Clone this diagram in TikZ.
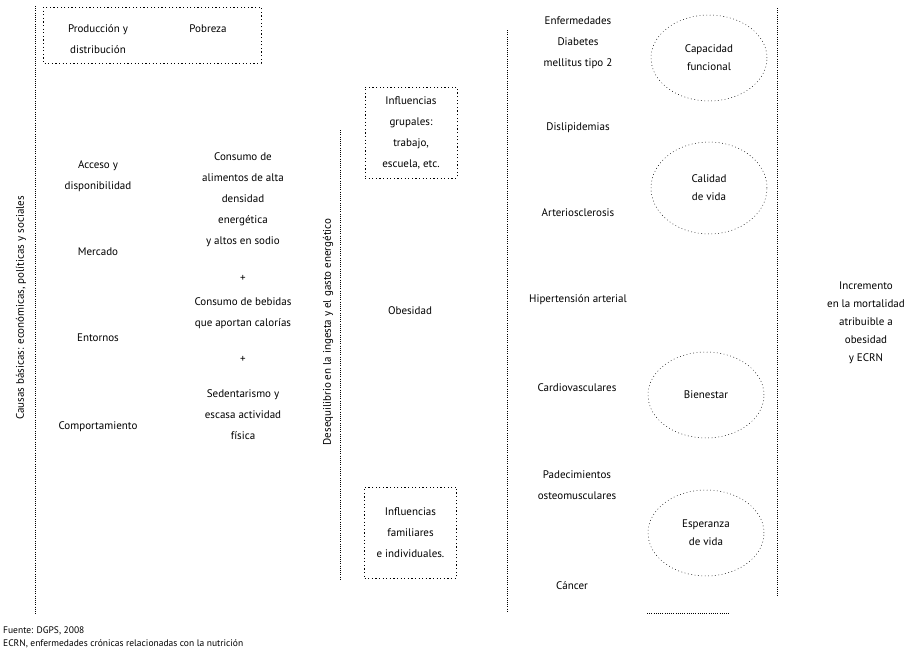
\documentclass[tikz,border=0pt]{standalone}
\usepackage{fontspec}
\setmainfont{PT Sans}
\usetikzlibrary{shapes,positioning}

\begin{document}
\begin{tikzpicture}[x=1pt,y=-1pt,
    every node/.style={font=\fontsize{11}{21}\selectfont, align=center, inner sep=1pt},
    grupo/.style={draw, dash pattern=on 1.2pt off 2.4pt, line width=0.7pt, minimum width=92pt, minimum height=91pt},
    halo/.style={draw, ellipse, dash pattern=on 0.8pt off 2.6pt, line width=0.5pt, minimum width=116pt, minimum height=86pt, font=\fontsize{11}{18}\selectfont},
    sep/.style={dash pattern=on 0.6pt off 1.6pt, line width=0.5pt}]
  \useasboundingbox (0,0) rectangle (913,656);
  %vertical
  \draw[sep] (35,6) -- (35,615);
  \draw[sep] (340,130) -- (340,580);
  \draw[sep] (507,30) -- (507,612);
  \draw[sep] (777,8) -- (777,596);
  \draw[sep] (647,613) -- (730,613);
  \node[rotate=90] (causas) at (21,308) {Causas básicas: económicas, políticas y sociales};
  \node[rotate=90] (deseq) at (328,332) {Desequilibrio en la ingesta y el gasto energético};

  %top box
  \draw[grupo] (43,7) rectangle (261,63);
  \node (prod) at (98,39.5) {Producción y\\distribución};
  \node (pobreza) at (208,29) {Pobreza};

  %first column
  \node (acceso) at (98,176) {Acceso y\\disponibilidad};
  \node (mercado) at (98,252) {Mercado};
  \node (entornos) at (98,338) {Entornos};
  \node (comport) at (98,427) {Comportamiento};

  %second column
  \node (alimentos) at (243,200) {Consumo de\\alimentos de alta\\densidad\\energética\\y altos en sodio};
  \node (mas1) at (243,278) {+};
  \node (bebidas) at (243,313) {Consumo de bebidas\\que aportan calorías};
  \node (mas2) at (243,359) {+};
  \node (sedent) at (243,415) {Sedentarismo y\\escasa actividad\\física};

  %obesity
  \node[grupo] (grupales) at (411,132.5) {Influencias\\grupales:\\trabajo,\\escuela, etc.};
  \node (obesidad) at (410,311) {Obesidad};
  \node[grupo] (familiares) at (410.5,532.5) {Influencias\\familiares\\e individuales.};

  %diseases
  \node (enferm) at (578,43) {Enfermedades\\Diabetes\\mellitus tipo 2};
  \node (dislip) at (578,128) {Dislipidemias};
  \node (arterio) at (578,213) {Arteriosclerosis};
  \node (hiper) at (578,300) {Hipertensión arterial};
  \node (cardio) at (577,388) {Cardiovasculares};
  \node (padec) at (577,485) {Padecimientos\\osteomusculares};
  \node (cancer) at (572,586) {Cáncer};

  %outcomes
  \node[halo] (capacidad) at (709,58) {Capacidad\\funcional};
  \node[halo, minimum height=92pt] (calidad) at (709,188) {Calidad\\de vida};
  \node[halo] (bienestar) at (706,395) {Bienestar};
  \node[halo] (esperanza) at (706,533) {Esperanza\\de vida};

  \node[font=\fontsize{11}{18}\selectfont] (incremento) at (866,323) {Incremento\\en la mortalidad\\atribuible a\\obesidad\\y ECRN};

  %source
  \node[anchor=base west, font=\fontsize{9.5}{11}\selectfont] (fuente) at (2,633) {Fuente: DGPS, 2008};
  \node[anchor=base west, font=\fontsize{9.5}{11}\selectfont] (ecrn) at (2,646) {ECRN, enfermedades crónicas relacionadas con la nutrición};
\end{tikzpicture}
\end{document}
